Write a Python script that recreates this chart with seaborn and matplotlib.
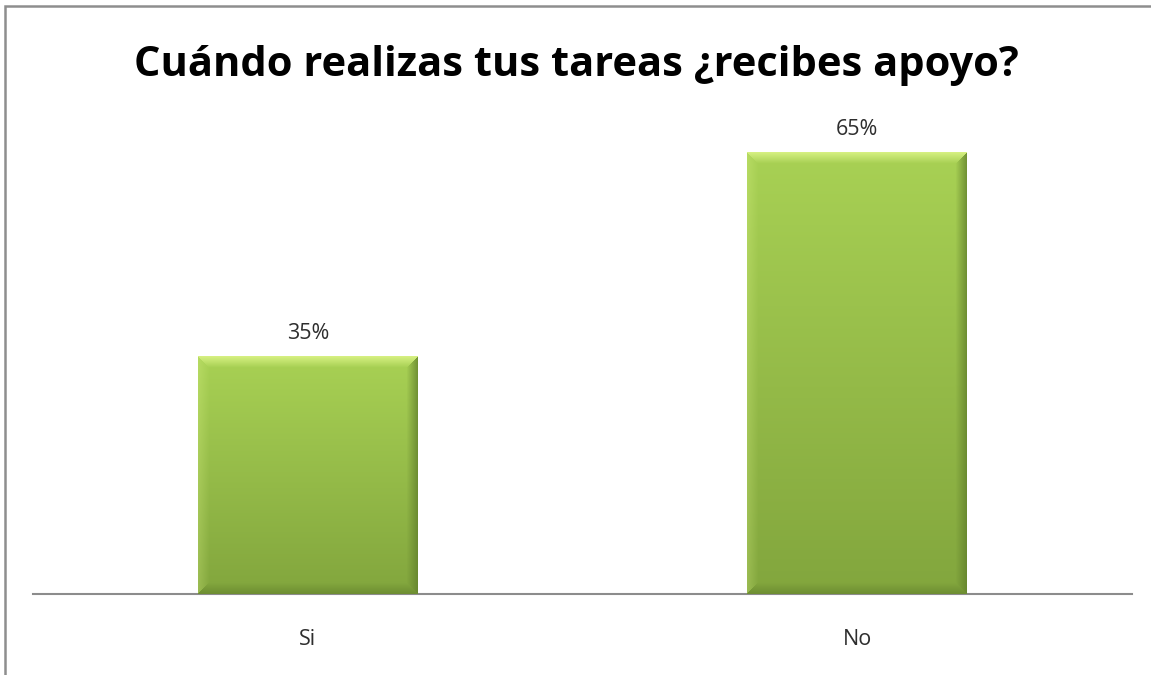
import numpy as np
import pandas as pd
import matplotlib
matplotlib.use("Agg")
import matplotlib.pyplot as plt
import matplotlib.patches as mpatches
import seaborn as sns

categories = ["Si", "No"]
values = [35, 65]
value_labels = ["35%", "65%"]
title = "Cuándo realizas tus tareas ¿recibes apoyo?"

sns.set_theme(style="white")
plt.rcParams["font.family"] = ["Open Sans", "DejaVu Sans"]

W, H = 1151, 675
fig = plt.figure(figsize=(W / 100, H / 100), dpi=100)
fig.patch.set_facecolor("white")

ax = fig.add_axes([33 / W, (H - 594) / H, 1099 / W, 476 / H])
df = pd.DataFrame({"cat": categories, "val": values})
sns.barplot(data=df, x="cat", y="val", ax=ax, width=0.40, color="#a5cc50",
            saturation=1)
ax.set_xlim(-0.5, 1.5)
ax.set_ylim(0, 70)
ax.set_yticks([])
ax.set_xlabel("")
ax.set_ylabel("")
for s in ["top", "right", "left"]:
    ax.spines[s].set_visible(False)
ax.spines["bottom"].set_color("#8c8c8c")
ax.spines["bottom"].set_linewidth(1.5)
ax.tick_params(axis="x", length=0, pad=25, labelsize=15.5, labelcolor="#2e2e2e")
ax.set_axisbelow(False)

top_c = np.array([0.66, 0.82, 0.33])
bot_c = np.array([0.51, 0.65, 0.24])


def bevel_image(wpx, hpx):
    yy, xx = np.mgrid[0:hpx, 0:wpx]
    t = yy / max(hpx - 1, 1)
    img = top_c[None, None, :] * (1 - t[..., None]) + bot_c[None, None, :] * t[..., None]
    b = 11.0
    d_top = yy
    d_bot = hpx - 1 - yy
    d_left = xx
    d_right = wpx - 1 - xx
    dmin = np.minimum.reduce([d_top, d_bot, d_left, d_right])
    edge = dmin < b
    which = np.argmin(np.stack([d_top, d_bot, d_left, d_right]), axis=0)
    fade = (1 - dmin / b)
    out = img.copy()
    light = np.array([0.88, 0.97, 0.55])
    dark = np.array([0.38, 0.50, 0.17])
    m = edge & (which == 0)
    out[m] = img[m] * (1 - 0.8 * fade[m, None]) + light * 0.8 * fade[m, None]
    m = edge & (which == 1)
    out[m] = img[m] * (1 - 0.6 * fade[m, None]) + dark * 0.6 * fade[m, None]
    m = edge & (which == 2)
    out[m] = img[m] * (1 - 0.25 * fade[m, None]) + light * 0.25 * fade[m, None]
    m = edge & (which == 3)
    out[m] = img[m] * (1 - 0.75 * fade[m, None]) + dark * 0.75 * fade[m, None]
    return np.clip(out, 0, 1)


fig.canvas.draw()
for p, lab in zip(ax.patches, value_labels):
    x0, y0 = p.get_x(), p.get_y()
    w, h = p.get_width(), p.get_height()
    bb = p.get_window_extent()
    img = bevel_image(max(int(bb.width), 2), max(int(bb.height), 2))
    p.set_facecolor("none")
    p.set_edgecolor("none")
    im = ax.imshow(img, extent=[x0, x0 + w, y0, y0 + h], origin="upper",
                   aspect="auto", zorder=3, interpolation="bilinear")
    im.set_clip_path(p)
    ax.text(x0 + w / 2, y0 + h + 2.5, lab, ha="center", va="baseline",
            fontsize=15.5, color="#2e2e2e", zorder=4)
ax.set_xlim(-0.5, 1.5)
ax.set_ylim(0, 70)

fig.text(576 / W, 1 - 76 / H, title, ha="center", va="baseline",
         fontsize=30, fontweight="bold", color="black")

fig.patches.append(mpatches.Rectangle((5 / W, -0.1), 1.2, (1 - 6 / H) + 0.1,
                                      transform=fig.transFigure, fill=False,
                                      edgecolor="#8e8e8e", linewidth=1.8))

fig.savefig("out.png", dpi=100, facecolor="white")
